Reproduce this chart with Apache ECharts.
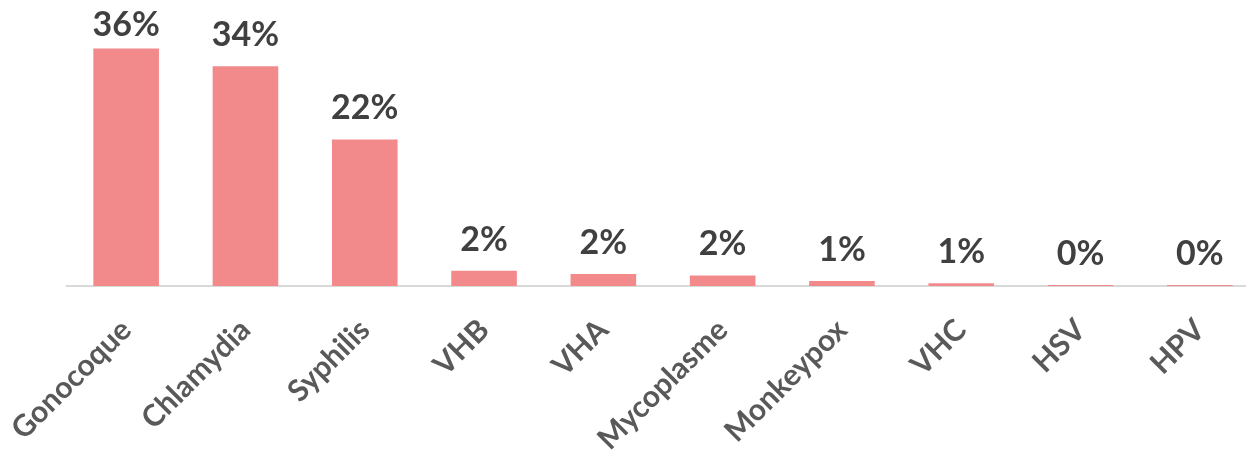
<!DOCTYPE html>
<html>
<head>
<meta charset="utf-8">
<script src="https://cdn.jsdelivr.net/npm/echarts@6/dist/echarts.min.js"></script>
<style>
html,body{margin:0;padding:0;background:#fff;overflow:hidden;}
#chart{width:1246px;height:450px;}
</style>
</head>
<body>
<div id="chart"></div>
<script>
const categories = ["Gonocoque","Chlamydia","Syphilis","VHB","VHA","Mycoplasme","Monkeypox","VHC","HSV","HPV"];
const values = [36.0, 33.3, 22.2, 2.3, 1.8, 1.6, 0.75, 0.4, 0.15, 0.15];
const valueLabels = ["36%","34%","22%","2%","2%","2%","1%","1%","0%","0%"];

const LABEL_MAX_TOP = 35.5; // labels above this value are kept inside the chart (as in the source)
const seriesData = values.map(v => v > LABEL_MAX_TOP ? {value: v, label: {distance: 6}} : v);

const chart = echarts.init(document.getElementById('chart'), null, {renderer:'canvas'});
chart.setOption({
  animation:false,
  grid:{left:66.5, top:22, width:1193, height:264, containLabel:false, outerBoundsMode:'none'},
  xAxis:{
    type:'category',
    data:categories,
    axisLine:{show:true, lineStyle:{color:'#d9d9d9', width:2}},
    axisTick:{show:false},
    axisLabel:{rotate:45, interval:0, margin:39, color:'#595959', fontFamily:'Lato', fontSize:30, fontWeight:'bold'}
  },
  yAxis:{
    type:'value', min:0, max:40, show:false,
    splitLine:{show:false}
  },
  series:[{
    type:'bar',
    data:seriesData,
    barWidth:'55%',
    itemStyle:{color:'#F28A8C'},
    label:{
      show:true, position:'top', distance:14,
      color:'#404040', fontFamily:'Lato', fontSize:34, fontWeight:'bold',
      formatter:(p)=>valueLabels[p.dataIndex]
    }
  }]
});
</script>
</body>
</html>
